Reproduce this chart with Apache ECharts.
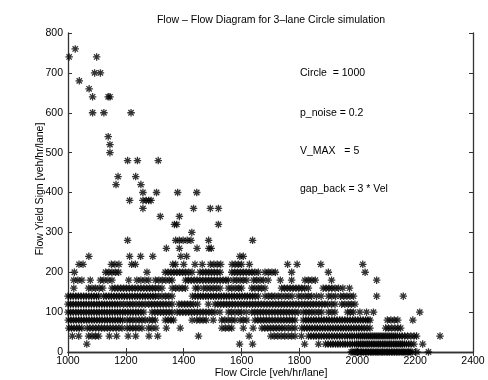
<!DOCTYPE html>
<html>
<head>
<meta charset="utf-8">
<script src="https://cdn.jsdelivr.net/npm/echarts@6/dist/echarts.min.js"></script>
<style>
html,body{margin:0;padding:0;background:#fff;}
#chart{width:488px;height:380px;}
</style>
</head>
<body>
<div id="chart"></div>
<script>
// Tick labels
const xTicks = [1000, 1200, 1400, 1600, 1800, 2000, 2200, 2400];
const yTicks = [0, 100, 200, 300, 400, 500, 600, 700, 800];

// Flow Circle values (x) for each Flow Yield Sign level (y)
const c0 = [1979,1985,1992,1997,2003,2010,2015,2021,2028,2033,2039,2046,2051,2057,2064,2069,2075,2082,2087,2093,2100,2105,2111,2118,2123,2129,2136,2141,2147,2154,2159,2165,2172,2177,2183,2189,2206,2246];
const c20 = [1065,1593,1638,1818,1866,1890,1899,1908,1916,1925,1933,1941,1950,1958,1966,1975,1983,1991,1998,2004,2011,2017,2023,2030,2036,2042,2049,2055,2061,2068,2074,2080,2087,2093,2099,2106,2112,2118,2125,2131,2137,2144,2150,2156,2163,2170,2178,2186,2196,2226];
const c40 = [1015,1037,1071,1083,1095,1106,1143,1168,1208,1234,1280,1310,1451,1626,1701,1713,1725,1737,1749,1761,1773,1785,1807,1831,1840,1849,1858,1867,1876,1885,1894,1903,1912,1921,1930,1939,1948,1957,1966,1974,1982,1990,1998,2005,2012,2019,2026,2033,2040,2047,2054,2061,2068,2075,2082,2089,2096,2103,2110,2117,2124,2131,2138,2146,2155,2164,2174,2185,2196,2205,2286];
const c60 = [1003,1012,1021,1030,1039,1048,1066,1076,1086,1096,1106,1116,1126,1136,1146,1156,1166,1176,1187,1204,1214,1224,1234,1245,1256,1278,1290,1304,1340,1388,1532,1544,1556,1566,1606,1640,1670,1680,1690,1700,1710,1720,1730,1740,1750,1762,1774,1785,1808,1817,1826,1835,1844,1853,1862,1871,1880,1889,1898,1907,1916,1925,1934,1943,1952,1961,1970,1979,1988,1997,2006,2015,2024,2034,2044,2098,2108,2119,2130,2140,2150];
const c80 = [1001,1010,1019,1028,1037,1046,1055,1064,1073,1082,1091,1100,1109,1118,1127,1136,1145,1154,1163,1172,1181,1189,1204,1214,1224,1235,1246,1256,1267,1281,1292,1302,1336,1346,1356,1365,1429,1445,1456,1467,1478,1502,1531,1542,1554,1566,1577,1595,1606,1618,1646,1656,1666,1676,1686,1696,1706,1716,1726,1736,1746,1756,1766,1776,1785,1813,1822,1831,1840,1849,1858,1867,1876,1885,1894,1903,1912,1921,1930,1939,1948,1957,1966,1975,1984,1993,2002,2011,2020,2029,2037,2044,2104,2116,2128,2140,2192];
const c100 = [1000,1009,1018,1027,1036,1045,1054,1063,1072,1081,1090,1099,1108,1117,1126,1135,1144,1153,1162,1171,1180,1189,1198,1207,1216,1225,1234,1243,1252,1262,1290,1300,1310,1320,1330,1340,1350,1360,1377,1387,1397,1407,1417,1427,1437,1447,1457,1467,1477,1487,1497,1508,1525,1554,1565,1577,1589,1600,1616,1635,1645,1655,1665,1675,1685,1695,1705,1715,1725,1735,1745,1755,1765,1775,1785,1796,1813,1823,1833,1843,1854,1866,1877,1900,1912,1923,1966,1976,1987,2009,2032,2056,2216];
const c120 = [1000,1009,1018,1027,1036,1045,1054,1063,1072,1081,1090,1099,1108,1117,1126,1135,1144,1153,1162,1171,1180,1192,1204,1214,1224,1235,1246,1256,1267,1279,1289,1299,1309,1319,1329,1339,1349,1360,1383,1393,1403,1413,1423,1434,1448,1485,1508,1518,1528,1538,1548,1558,1568,1578,1588,1598,1608,1618,1628,1638,1648,1658,1668,1678,1688,1698,1708,1718,1728,1738,1748,1758,1768,1778,1788,1798,1808,1818,1828,1838,1848,1858,1868,1878,1888,1898,1911,1923,1946,1957,1969,1980,1992];
const c140 = [1000,1009,1018,1027,1036,1045,1054,1063,1072,1081,1090,1099,1106,1123,1132,1141,1150,1159,1168,1177,1186,1195,1204,1213,1222,1231,1240,1249,1258,1267,1276,1285,1294,1302,1313,1325,1337,1348,1360,1430,1440,1449,1458,1467,1476,1485,1494,1503,1512,1521,1530,1539,1548,1557,1566,1575,1584,1593,1602,1611,1620,1629,1638,1647,1658,1681,1693,1704,1715,1727,1739,1751,1763,1775,1796,1808,1820,1831,1842,1859,1875,1900,1912,1925,1942,1953,1964,1975,1987,2067,2159];
const c160 = [1020,1071,1083,1095,1108,1120,1152,1162,1172,1182,1192,1202,1212,1222,1232,1242,1252,1262,1272,1282,1292,1302,1313,1325,1360,1372,1384,1395,1406,1440,1450,1468,1480,1491,1502,1514,1526,1554,1566,1578,1590,1600,1635,1646,1658,1669,1681,1738,1748,1758,1768,1778,1788,1798,1808,1818,1831,1882,1892,1902,1912,1923,1935,1950,1973];
const c180 = [1020,1034,1048,1077,1112,1124,1138,1152,1210,1238,1252,1266,1279,1302,1314,1326,1338,1350,1360,1406,1416,1426,1436,1446,1456,1466,1476,1486,1496,1506,1516,1526,1536,1546,1554,1571,1583,1595,1606,1618,1641,1652,1664,1676,1692,1734,1773,1819,1831,1843,1855,1911,2067];
const c200 = [1022,1130,1141,1152,1164,1175,1273,1336,1346,1356,1366,1376,1386,1396,1406,1417,1429,1456,1466,1476,1486,1496,1506,1516,1526,1566,1576,1586,1596,1606,1616,1626,1636,1646,1658,1681,1693,1705,1717,1773,1900,2027];
const c220 = [1038,1052,1150,1162,1176,1220,1233,1362,1372,1400,1439,1464,1492,1504,1516,1528,1567,1578,1589,1600,1627,1759,1792,1874,2019];
const c240 = [1072,1213,1251,1293,1390,1410,1594,1606];
const c260 = [1340,1385,1446,1487,1495];
const c280 = [1206,1372,1385,1398,1412,1425,1486,1638];
const c300 = [1428];
const c320 = [1368,1376,1520];
const c340 = [1319,1385];
const c360 = [1259,1434,1492,1520];
const c380 = [1213,1259,1270,1279,1287];
const c400 = [1259,1306,1379,1445];
const c420 = [1166,1252];
const c440 = [1173,1234];
const c480 = [1206,1240,1312];
const c500 = [1145];
const c520 = [1145];
const c540 = [1139];
const c600 = [1085,1124,1218];
const c640 = [1085,1139,1145];
const c660 = [1073];
const c680 = [1039];
const c700 = [1092,1112];
const c740 = [1004,1099];
const c760 = [1025];

const yieldLevels = [0,20,40,60,80,100,120,140,160,180,200,220,240,260,280,300,320,340,360,380,400,420,440,480,500,520,540,600,640,660,680,700,740,760];
const circleRows = [c0,c20,c40,c60,c80,c100,c120,c140,c160,c180,c200,c220,c240,c260,c280,c300,c320,c340,c360,c380,c400,c420,c440,c480,c500,c520,c540,c600,c640,c660,c680,c700,c740,c760];

const annotations = ['Circle  = 1000', 'p_noise = 0.2', 'V_MAX   = 5', 'gap_back = 3 * Vel'];

const points = [];
yieldLevels.forEach((y, i) => circleRows[i].forEach(x => points.push([x, y])));

const FONT = '"Liberation Sans", Arial, Helvetica, sans-serif';
const asterisk = 'path://M0 5.8L14 5.8L14 8.2L0 8.2Z M5.8 0L8.2 0L8.2 14L5.8 14Z M2.85 1.15L12.85 11.15L11.15 12.85L1.15 2.85Z M11.15 1.15L12.85 2.85L2.85 12.85L1.15 11.15Z';

const chart = echarts.init(document.getElementById('chart'), null, {renderer: 'canvas'});
const axisLine = {show: true, lineStyle: {color: '#333', width: 1.3}};
const tick = {show: true, inside: true, length: 4, lineStyle: {color: '#333', width: 1}};
const txt = (text, x, y, extra) => Object.assign({type: 'text', x, y, silent: true,
  style: {text, fill: '#000', font: '10.5px ' + FONT, textAlign: 'left', textVerticalAlign: 'middle'}}, extra || {});
chart.setOption({
  animation: false,
  backgroundColor: '#fff',
  textStyle: {fontFamily: FONT},
  grid: {left: 68, right: 15, top: 33, bottom: 28, containLabel: false, outerBoundsMode: 'none'},
  xAxis: [{
    type: 'value', min: xTicks[0], max: xTicks[xTicks.length - 1], interval: 200, position: 'bottom',
    axisLine, axisTick: tick, splitLine: {show: false},
    axisLabel: {color: '#000', fontSize: 10.5, fontFamily: FONT, margin: 4, formatter: v => String(v)}
  }, {
    type: 'value', min: xTicks[0], max: xTicks[xTicks.length - 1], interval: 200, position: 'top',
    axisLine, axisTick: tick, splitLine: {show: false}, axisLabel: {show: false}
  }],
  yAxis: [{
    type: 'value', min: yTicks[0], max: yTicks[yTicks.length - 1], interval: 100, position: 'left',
    axisLine, axisTick: tick, splitLine: {show: false},
    axisLabel: {color: '#000', fontSize: 10.5, fontFamily: FONT, margin: 5, formatter: v => String(v)}
  }, {
    type: 'value', min: yTicks[0], max: yTicks[yTicks.length - 1], interval: 100, position: 'right',
    axisLine, axisTick: tick, splitLine: {show: false}, axisLabel: {show: false}
  }],
  series: [{
    type: 'scatter',
    data: points,
    symbol: asterisk,
    symbolSize: 7.5,
    clip: false,
    itemStyle: {color: '#000'},
    emphasis: {disabled: true},
    silent: true
  }],
  graphic: [
    {type: 'text', x: 271, y: 20, silent: true, style: {text: 'Flow \u2013 Flow Diagram for 3\u2013lane Circle simulation', fill: '#000', font: '10.5px ' + FONT, textAlign: 'center', textVerticalAlign: 'middle'}},
    {type: 'text', x: 271, y: 373, silent: true, style: {text: 'Flow Circle [veh/hr/lane]', fill: '#000', font: '10.5px ' + FONT, textAlign: 'center', textVerticalAlign: 'middle'}},
    {type: 'text', x: 40, y: 189, rotation: Math.PI / 2, silent: true, style: {text: 'Flow Yield Sign [veh/hr/lane]', fill: '#000', font: '10.5px ' + FONT, textAlign: 'center', textVerticalAlign: 'middle'}},
    txt(annotations[0], 300, 73),
    txt(annotations[1], 300, 113),
    txt(annotations[2], 300, 151),
    txt(annotations[3], 300, 189)
  ]
});
</script>
</body>
</html>
